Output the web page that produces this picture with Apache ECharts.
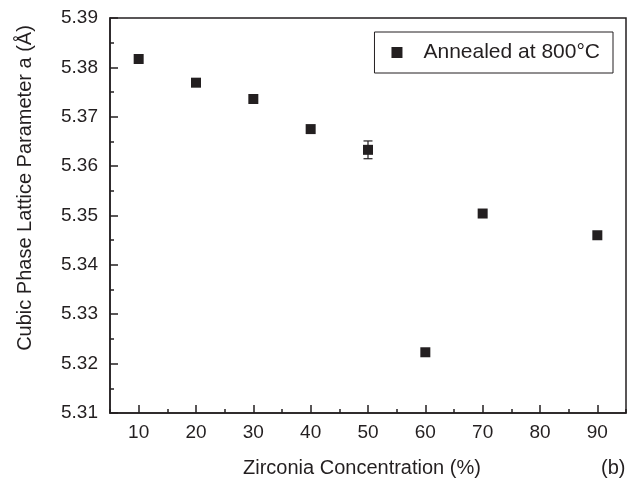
<!DOCTYPE html>
<html>
<head>
<meta charset="utf-8">
<script src="https://cdn.jsdelivr.net/npm/echarts@6/dist/echarts.min.js"></script>
<style>html,body{margin:0;padding:0;background:#fff}#c{width:627px;height:479px}</style>
</head>
<body>
<div id="c"></div>
<script>
const concentrations = [10, 20, 30, 40, 50, 60, 70, 90];
const latticeA = [5.3817, 5.3769, 5.3736, 5.3675, 5.3633, 5.3223, 5.3504, 5.3460];
const errBar = [null, null, null, null, 0.0018, null, null, null];
const xMajorTicks = [10, 20, 30, 40, 50, 60, 70, 80, 90];
const seriesName = 'Annealed at 800°C';
const xTitle = 'Zirconia Concentration (%)';
const yTitle = 'Cubic Phase Lattice Parameter a (Å)';

const FONT = 'Liberation Sans, Arial, sans-serif';
const INK = '#231f20';
const chart = echarts.init(document.getElementById('c'), null, {renderer: 'canvas'});

const pts = concentrations.map((x, i) => [x, latticeA[i]]);
const errData = [];
concentrations.forEach((x, i) => { if (errBar[i] != null) errData.push([x, latticeA[i] - errBar[i], latticeA[i] + errBar[i]]); });

chart.setOption({
  animation: false,
  backgroundColor: '#fff',
  grid: {left: 110, top: 18, right: 1, bottom: 66, show: true, borderColor: INK, borderWidth: 1.5, backgroundColor: 'transparent'},
  xAxis: [{
    type: 'value', min: 5, max: 95, interval: 5,
    axisLine: {show: true, lineStyle: {color: INK, width: 1.5}},
    axisTick: {show: true, inside: true, length: 4, lineStyle: {color: INK, width: 1.5}},
    axisLabel: {show: false},
    splitLine: {show: false}
  }, {
    type: 'value', min: 5, max: 95, position: 'bottom', gridIndex: 0,
    axisLine: {show: false},
    axisTick: {show: true, inside: true, length: 8, customValues: xMajorTicks, lineStyle: {color: INK, width: 1.5}},
    axisLabel: {show: true, customValues: xMajorTicks, margin: 10, fontFamily: FONT, fontSize: 19, color: INK},
    splitLine: {show: false}
  }],
  yAxis: {
    type: 'value', min: 5.31, max: 5.39, interval: 0.01,
    axisLine: {show: true, lineStyle: {color: INK, width: 1.5}},
    axisTick: {show: true, inside: true, length: 8, lineStyle: {color: INK, width: 1.5}},
    minorTick: {show: true, splitNumber: 2, length: 4, lineStyle: {color: INK, width: 1.5}},
    axisLabel: {margin: 12, fontFamily: FONT, fontSize: 19, color: INK, formatter: v => v.toFixed(2)},
    splitLine: {show: false}
  },
  legend: {
    show: true, right: 14, top: 32, orient: 'vertical',
    data: [{name: seriesName, icon: 'rect', itemStyle: {opacity: 1, color: INK, borderWidth: 0}}],
    itemWidth: 11, itemHeight: 11, itemGap: 10,
    padding: [10, 13, 10, 17],
    borderColor: INK, borderWidth: 1, borderRadius: 0, backgroundColor: '#fff',
    textStyle: {fontFamily: FONT, fontSize: 21, color: INK, padding: [0, 0, 0, 16]}
  },
  series: [{
    name: seriesName, type: 'scatter', xAxisIndex: 0, data: pts,
    symbol: 'rect', symbolSize: 10,
    itemStyle: {color: INK, opacity: 1, borderWidth: 0}, z: 3
  }, {
    type: 'custom', xAxisIndex: 0, data: errData, z: 2,
    renderItem: function (params, api) {
      const x = api.coord([api.value(0), api.value(1)])[0];
      const lo = api.coord([api.value(0), api.value(1)])[1];
      const hi = api.coord([api.value(0), api.value(2)])[1];
      const cw = 4.5;
      const st = {stroke: INK, lineWidth: 1.2};
      return {type: 'group', children: [
        {type: 'line', shape: {x1: x, y1: lo, x2: x, y2: hi}, style: st},
        {type: 'line', shape: {x1: x - cw, y1: lo, x2: x + cw, y2: lo}, style: st},
        {type: 'line', shape: {x1: x - cw, y1: hi, x2: x + cw, y2: hi}, style: st}
      ]};
    }
  }],
  graphic: [
    {type: 'text', style: {text: xTitle, fontFamily: FONT, fontSize: 20, fill: INK}, top: 458, left: 243},
    {type: 'text', style: {text: '(b)', fontFamily: FONT, fontSize: 20, fill: INK}, top: 458, left: 601},
    {type: 'text', style: {text: yTitle, fontFamily: FONT, fontSize: 20, fill: INK, align: 'center', verticalAlign: 'middle'}, x: 25, y: 188, rotation: Math.PI / 2}
  ]
});
</script>
</body>
</html>
